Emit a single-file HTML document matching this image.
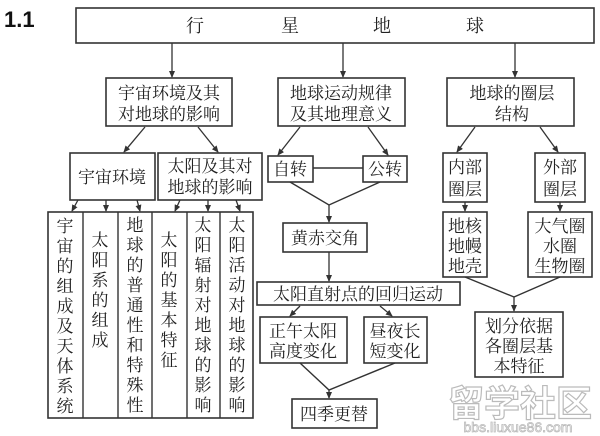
<!DOCTYPE html>
<html><head><meta charset="utf-8"><style>
html,body{margin:0;padding:0;background:#fff;width:600px;height:436px;overflow:hidden}
svg text{font-family:"Noto Serif CJK SC","WenQuanYi Zen Hei",serif;fill:#222}
</style></head><body>
<svg width="600" height="436" viewBox="0 0 600 436" xmlns="http://www.w3.org/2000/svg">
<defs><marker id="a" markerWidth="8" markerHeight="8" refX="6" refY="3" orient="auto" markerUnits="userSpaceOnUse"><path d="M0,0 L7,3 L0,6 Z" fill="#333"/></marker></defs>
<g fill="#fff" stroke="#333" stroke-width="1.6">
<rect x="76" y="8" width="518" height="35"/>
<rect x="106" y="78" width="126" height="48"/>
<rect x="278" y="78" width="127" height="48"/>
<rect x="447" y="78" width="127" height="48"/>
<rect x="70" y="153" width="85" height="47"/>
<rect x="158" y="153" width="104" height="47"/>
<rect x="268" y="156" width="45" height="26"/>
<rect x="363" y="156" width="44" height="26"/>
<rect x="283" y="223" width="84" height="29"/>
<rect x="257" y="282" width="203" height="23"/>
<rect x="260" y="317" width="87" height="46"/>
<rect x="364" y="317" width="63" height="46"/>
<rect x="292" y="399" width="85" height="29"/>
<rect x="443" y="153" width="44" height="49"/>
<rect x="535" y="153" width="50" height="49"/>
<rect x="443" y="212" width="44" height="65"/>
<rect x="528" y="212" width="64" height="65"/>
<rect x="475" y="312" width="88" height="65"/>
<rect x="48" y="212" width="205" height="206"/>
</g>
<g stroke="#333" stroke-width="1.4" fill="none">
<line x1="83" y1="212" x2="83" y2="418"/><line x1="118" y1="212" x2="118" y2="418"/><line x1="152" y1="212" x2="152" y2="418"/><line x1="187" y1="212" x2="187" y2="418"/><line x1="220" y1="212" x2="220" y2="418"/>
<line x1="313" y1="168" x2="363" y2="168"/>
<polyline points="290,182 329,205 380,182"/>
<polyline points="300,363 329,390 395,363"/>
<polyline points="465,277 514,297 560,277"/>
</g>
<g stroke="#333" stroke-width="1.3" marker-end="url(#a)">
<line x1="172" y1="43" x2="172" y2="77"/>
<line x1="343" y1="43" x2="343" y2="77"/>
<line x1="515" y1="43" x2="515" y2="77"/>
<line x1="145" y1="127" x2="124" y2="152"/>
<line x1="198" y1="127" x2="218" y2="152"/>
<line x1="300" y1="127" x2="278" y2="155"/>
<line x1="368" y1="127" x2="388" y2="155"/>
<line x1="475" y1="127" x2="457" y2="152"/>
<line x1="540" y1="127" x2="558" y2="152"/>
<line x1="329" y1="205" x2="329" y2="222"/>
<line x1="329" y1="252" x2="329" y2="281"/>
<line x1="300" y1="306" x2="290" y2="316"/>
<line x1="380" y1="306" x2="392" y2="316"/>
<line x1="329" y1="390" x2="329" y2="398"/>
<line x1="465" y1="202" x2="465" y2="211"/>
<line x1="560" y1="202" x2="560" y2="211"/>
<line x1="514" y1="297" x2="514" y2="311"/>
<line x1="78" y1="200" x2="72" y2="211"/>
<line x1="106" y1="200" x2="106" y2="211"/>
<line x1="137" y1="200" x2="140" y2="211"/>
<line x1="180" y1="200" x2="175" y2="211"/>
<line x1="208" y1="200" x2="208" y2="211"/>
<line x1="236" y1="200" x2="240" y2="211"/>
</g>
<text x="4" y="27" style="font-family:'Liberation Sans',sans-serif;font-weight:bold;font-size:22px;fill:#111">1.1</text>
<g font-size="18" text-anchor="middle">
<text x="195" y="32">行</text><text x="290" y="32">星</text><text x="382" y="32">地</text><text x="475" y="32">球</text>
</g>
<g font-size="17" text-anchor="middle">
<text x="169" y="99">宇宙环境及其</text><text x="169" y="120">对地球的影响</text>
<text x="341" y="99">地球运动规律</text><text x="341" y="120">及其地理意义</text>
<text x="512" y="99">地球的圈层</text><text x="512" y="120">结构</text>
<text x="112" y="183">宇宙环境</text>
<text x="210" y="172">太阳及其对</text><text x="210" y="193">地球的影响</text>
<text x="290" y="175">自转</text><text x="385" y="175">公转</text>
<text x="325" y="244">黄赤交角</text>
<text x="358" y="300">太阳直射点的回归运动</text>
<text x="303" y="337">正午太阳</text><text x="303" y="357">高度变化</text>
<text x="395" y="337">昼夜长</text><text x="395" y="357">短变化</text>
<text x="334" y="420">四季更替</text>
<text x="465" y="173">内部</text><text x="465" y="195">圈层</text>
<text x="560" y="173">外部</text><text x="560" y="195">圈层</text>
<text x="465" y="232">地核</text><text x="465" y="252">地幔</text><text x="465" y="272">地壳</text>
<text x="560" y="232">大气圈</text><text x="560" y="252">水圈</text><text x="560" y="272">生物圈</text>
<text x="519" y="332">划分依据</text><text x="519" y="352">各圈层基</text><text x="519" y="372">本特征</text>
</g>
<g font-size="17" text-anchor="middle">
<text x="65" y="232">宇</text><text x="65" y="252">宙</text><text x="65" y="272">的</text><text x="65" y="292">组</text><text x="65" y="312">成</text><text x="65" y="332">及</text><text x="65" y="352">天</text><text x="65" y="372">体</text><text x="65" y="392">系</text><text x="65" y="412">统</text>
<text x="100" y="246">太</text><text x="100" y="266">阳</text><text x="100" y="286">系</text><text x="100" y="306">的</text><text x="100" y="326">组</text><text x="100" y="346">成</text>
<text x="135" y="231">地</text><text x="135" y="251">球</text><text x="135" y="271">的</text><text x="135" y="291">普</text><text x="135" y="311">通</text><text x="135" y="331">性</text><text x="135" y="351">和</text><text x="135" y="371">特</text><text x="135" y="391">殊</text><text x="135" y="411">性</text>
<text x="169" y="246">太</text><text x="169" y="266">阳</text><text x="169" y="286">的</text><text x="169" y="306">基</text><text x="169" y="326">本</text><text x="169" y="346">特</text><text x="169" y="366">征</text>
<text x="203" y="231">太</text><text x="203" y="251">阳</text><text x="203" y="271">辐</text><text x="203" y="291">射</text><text x="203" y="311">对</text><text x="203" y="331">地</text><text x="203" y="351">球</text><text x="203" y="371">的</text><text x="203" y="391">影</text><text x="203" y="411">响</text>
<text x="237" y="231">太</text><text x="237" y="251">阳</text><text x="237" y="271">活</text><text x="237" y="291">动</text><text x="237" y="311">对</text><text x="237" y="331">地</text><text x="237" y="351">球</text><text x="237" y="371">的</text><text x="237" y="391">影</text><text x="237" y="411">响</text>
</g>
<text x="520" y="416" text-anchor="middle" style="font-family:'Liberation Sans','Noto Sans CJK SC',sans-serif;font-size:36px;font-weight:bold;fill:#fff;stroke:#bbb;stroke-width:1.2">留学社区</text>
<text x="518" y="432" text-anchor="middle" style="font-family:'Liberation Sans',sans-serif;font-size:14px;fill:#fff;stroke:#bbb;stroke-width:0.8">bbs.liuxue86.com</text>
</svg>
</body></html>
